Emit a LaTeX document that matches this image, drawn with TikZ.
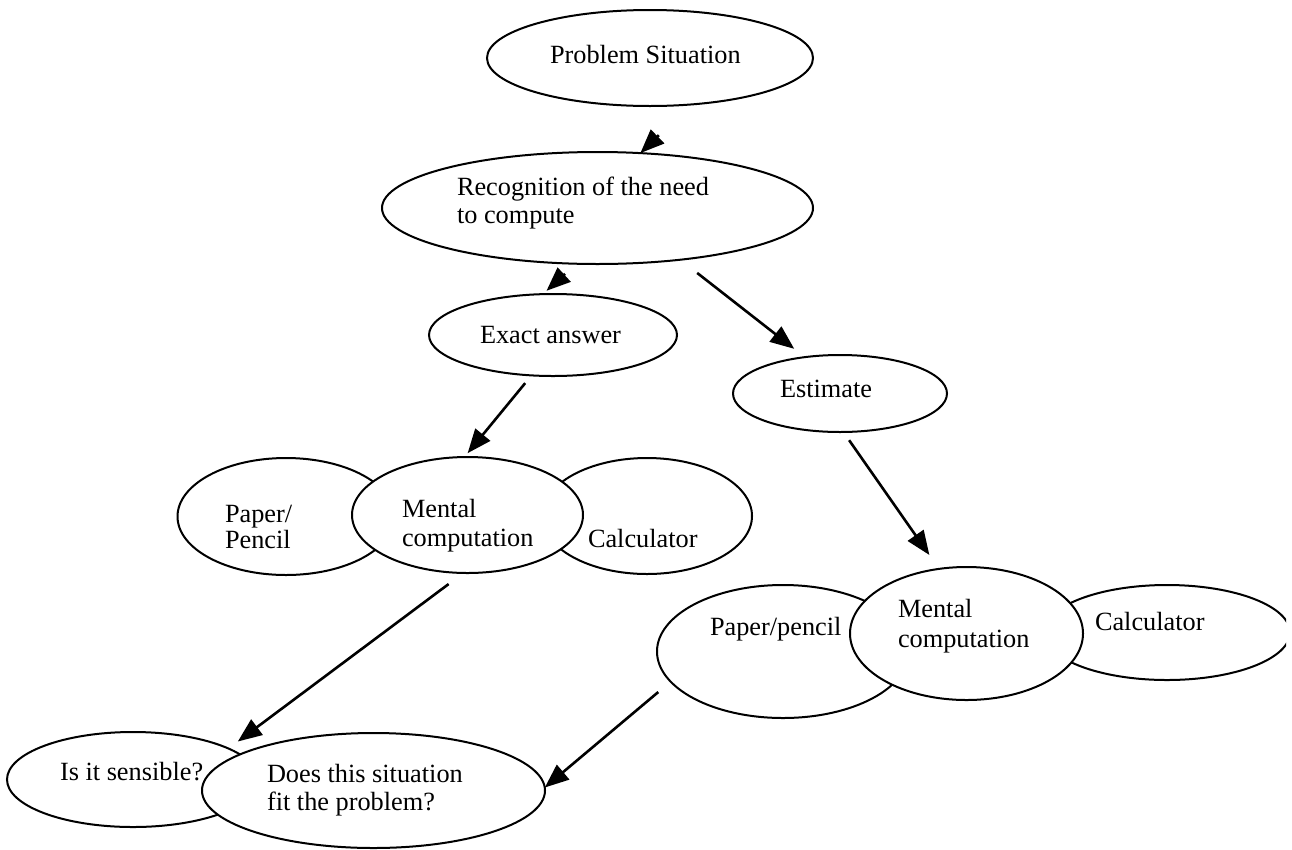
\documentclass[tikz,border=0pt]{standalone}
\usepackage{fontspec}
\setmainfont{Liberation Serif}
\usetikzlibrary{arrows.meta,shapes.geometric}
\begin{document}
\begin{tikzpicture}[x=1pt,y=-1pt,
  bub/.style={ellipse,draw,fill=white,line width=2pt,inner sep=0pt,outer sep=0pt},
  txt/.style={inner sep=0pt,outer sep=0pt,font=\fontsize{26.3}{29}\selectfont},
  arr/.style={line width=2.6pt,-{Triangle[length=24pt,width=19pt]}}]
\useasboundingbox (0,0) rectangle (1292,849);
\begin{scope}
\clip (0,0) rectangle (1286,849);
% ellipses
\node[bub,minimum width=326pt,minimum height=96pt]  (ps)     at (650,58) {};
\node[bub,minimum width=431pt,minimum height=112pt] (rec)    at (597.5,208) {};
\node[bub,minimum width=248pt,minimum height=82pt]  (exact)  at (553,335) {};
\node[bub,minimum width=214pt,minimum height=77pt]  (est)    at (840,393.5) {};
\node[bub,minimum width=217pt,minimum height=117pt] (lpaper) at (286,516.5) {};
\node[bub,minimum width=210pt,minimum height=116pt] (lcalc)  at (647,516) {};
\node[bub,minimum width=231pt,minimum height=116pt] (lment)  at (467.5,515) {};
\node[bub,minimum width=252pt,minimum height=133pt] (rpaper) at (783,651.5) {};
\node[bub,minimum width=246pt,minimum height=95pt]  (rcalc)  at (1167,632.5) {};
\node[bub,minimum width=233pt,minimum height=133pt] (rment)  at (966.5,633.5) {};
\node[bub,minimum width=252pt,minimum height=95pt]  (sens)   at (133,779.5) {};
\node[bub,minimum width=343pt,minimum height=115pt] (does)   at (373.5,790.5) {};
% texts
\node[txt,anchor=base west] (tps) at (550,63) {Problem Situation};
\node[txt,anchor=north west,align=left,font=\fontsize{26.3}{28}\selectfont] (trec) at (457,177) {Recognition of the need\\to compute};
\node[txt,anchor=base west] (tex) at (480,343) {Exact answer};
\node[txt,anchor=base west] (test) at (780,397) {Estimate};
\node[txt,anchor=north west,align=left,font=\fontsize{26.3}{26}\selectfont] (tlp) at (225,505) {Paper/\\Pencil};
\node[txt,anchor=north west,align=left,font=\fontsize{26.3}{29}\selectfont] (tlm) at (402,499) {Mental\\computation};
\node[txt,anchor=base west] (tlc) at (588,547) {Calculator};
\node[txt,anchor=base west] (trp) at (710,635) {Paper/pencil};
\node[txt,anchor=north west,align=left,font=\fontsize{26.3}{30}\selectfont] (trm) at (898,599) {Mental\\computation};
\node[txt,anchor=base west] (trc) at (1095,630) {Calculator};
\node[txt,anchor=base west] (tsens) at (60,780) {Is it sensible?};
\node[txt,anchor=north west,align=left,font=\fontsize{26.3}{28}\selectfont] (tdoes) at (267,764) {Does this situation\\fit the problem?};
% arrows
\draw[arr,shorten <=44pt] (ps.-49.6) -- (rec.52.8);
\draw[arr,shorten <=15pt,shorten >=5pt] (rec.-111) -- (exact.104.7);
\draw[arr,shorten <=10pt,shorten >=5pt] (exact.-118.2) -- (lment.93.7);
\draw[arr,shorten <=21.5pt,shorten >=13.5pt] (rec.-32.9) -- (est.134.2);
\draw[arr,shorten <=10pt,shorten >=17pt] (est.-85.1) -- (rment.113.3);
\draw[arr,shorten <=18.5pt,shorten >=11.7pt] (lment.-94.6) -- (sens.18.4);
\draw[arr,shorten <=16.2pt] (rpaper.-165.1) -- (does.1);
\end{scope}
\end{tikzpicture}
\end{document}
